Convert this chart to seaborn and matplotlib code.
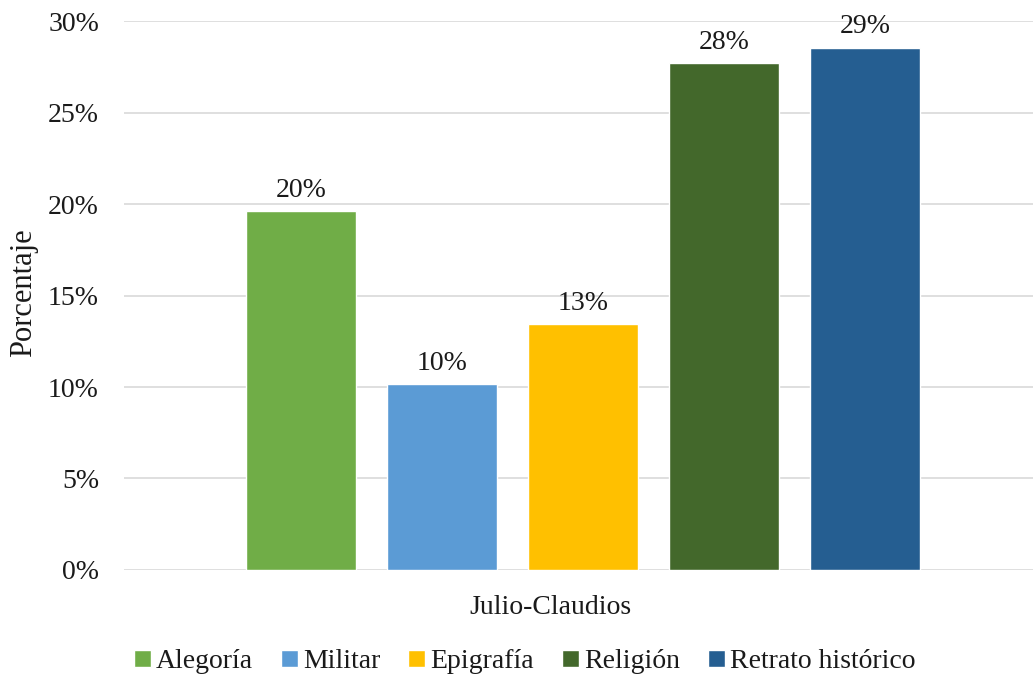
import pandas as pd
import seaborn as sns
import matplotlib.pyplot as plt
import matplotlib.transforms as mtransforms

sns.set_style("white")
plt.rcParams["font.family"] = ["Liberation Serif", "DejaVu Serif"]

periodo = ["Julio-Claudios"] * 5
tipos = ["Alegoría", "Militar", "Epigrafía", "Religión", "Retrato histórico"]
valores = [19.6, 10.15, 13.45, 27.7, 28.55]
colores = ["#70AD47", "#5B9BD5", "#FFC000", "#43682B", "#255E91"]

df = pd.DataFrame({"periodo": periodo, "tipo": tipos, "valor": valores})

fig = plt.figure(figsize=(10.33, 6.78), dpi=100)
ax = fig.add_axes([0.12, 0.1593, 0.889, 0.8097])

sns.barplot(data=df, x="periodo", y="valor", hue="tipo", hue_order=tipos,
            palette=colores, width=0.8, gap=0.22, saturation=1, ax=ax,
            legend=True, zorder=3)

for c in ax.containers:
    ax.bar_label(c, labels=[f"{v:.0f}%" for v in c.datavalues], padding=6,
                 fontsize=20, color="#1a1a1a")

ax.set_ylim(0, 30)
ax.set_xlim(-0.5216, 0.5216)
ax.set_yticks(range(0, 31, 5))
ax.set_yticklabels([f"{t}%" for t in range(0, 31, 5)], fontsize=20, color="#1a1a1a")
ax.tick_params(axis="y", length=0, pad=18)
ax.tick_params(axis="x", length=0, pad=18, labelsize=20, labelcolor="#1a1a1a")
off = mtransforms.ScaledTranslation(-0.33, 0, fig.dpi_scale_trans)
for lab in ax.get_xticklabels():
    lab.set_transform(lab.get_transform() + off)
ax.grid(axis="y", color="#D9D9D9", linewidth=1.2, zorder=0)
for s in ax.spines.values():
    s.set_visible(False)
ax.set_xlabel("")
ax.set_ylabel("Porcentaje", fontsize=22, color="#1a1a1a")
ax.yaxis.set_label_coords(-0.093, 0.505)

ax.legend_.remove()
handles, labels = ax.get_legend_handles_labels()
fig.legend(handles, labels, loc="center", bbox_to_anchor=(0.508, 0.024),
           ncol=5, frameon=False, fontsize=20, handlelength=0.6,
           handleheight=0.6, handletextpad=0.2, columnspacing=1.0,
           labelcolor="#1a1a1a")

fig.savefig("out.png", dpi=100)
